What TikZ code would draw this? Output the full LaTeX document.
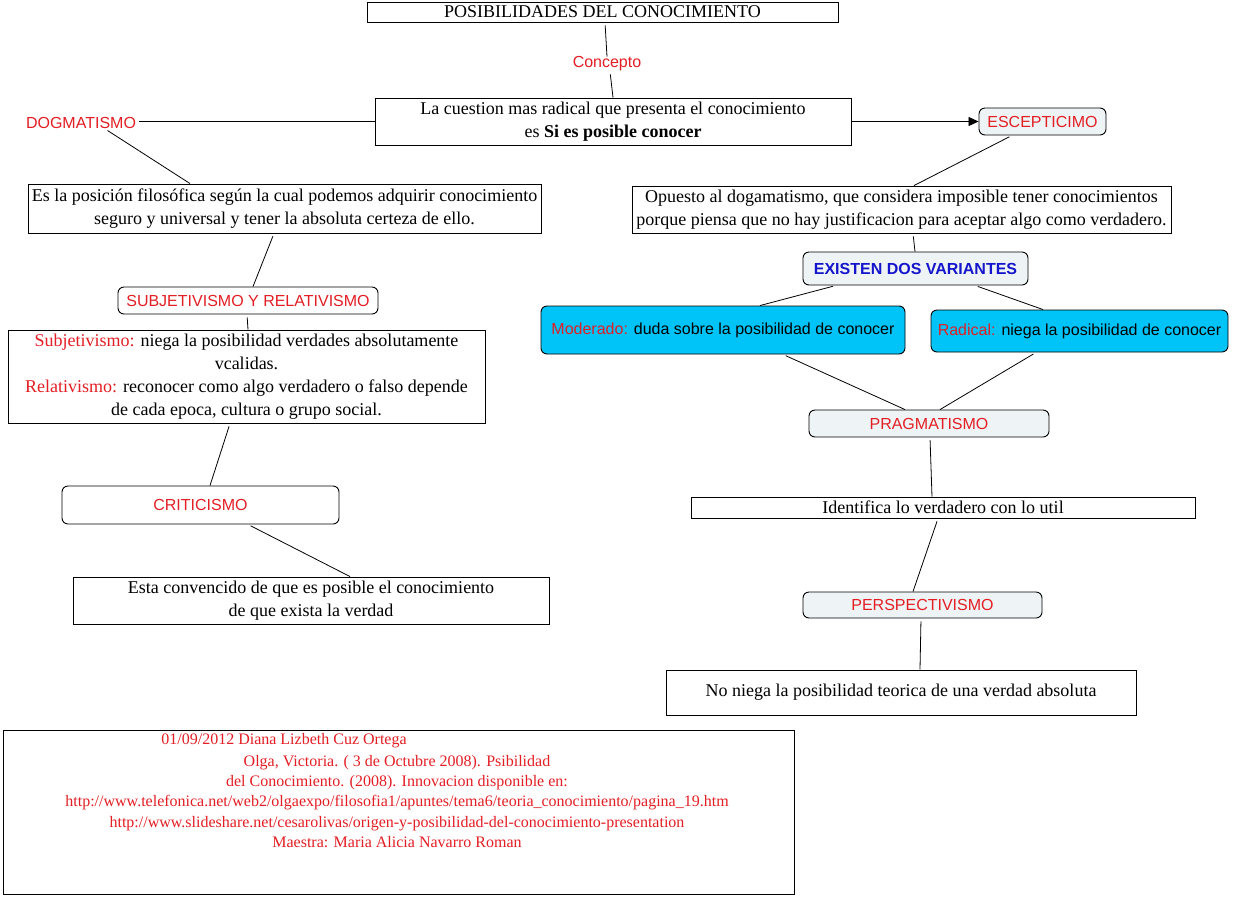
\documentclass[tikz,border=0pt]{standalone}
\usepackage{fontspec}
\setmainfont{Liberation Serif}
\setsansfont{Liberation Sans}
\usetikzlibrary{arrows.meta}

\definecolor{cmred}{RGB}{227,30,36}
\definecolor{cmblue}{RGB}{21,21,204}
\definecolor{cmcyan}{RGB}{0,196,248}
\definecolor{cmpale}{RGB}{238,244,245}

\begin{document}
\begin{tikzpicture}[x=1pt, y=-1pt,
    box/.style = {draw, line width=0.9pt, inner sep=0pt, align=center, font=\fontsize{18}{23}\selectfont},
    roundbox/.style = {draw, line width=0.9pt, rounded corners=6pt, inner sep=0pt, fill=cmpale, text=cmred, font=\sffamily\fontsize{16}{19}\selectfont},
    cyanbox/.style = {roundbox, fill=cmcyan, text=black},
    word/.style = {inner sep=0pt, text=cmred, font=\sffamily\fontsize{16}{19}\selectfont},
    link/.style = {line width=0.8pt, shorten <=3pt}]
        \useasboundingbox[fill=white] (0, 0) rectangle (1235, 898);

        \node[box, minimum width=471, minimum height=20] at (602.5, 12) (title) {POSIBILIDADES DEL CONOCIMIENTO};
        \node[word] at (607, 64) (concepto) {Concepto};
        \node[box, minimum width=476, minimum height=47] at (613, 121.5) (cuestion) {La cuestion mas radical que presenta el conocimiento\\ es \textbf{Si es posible conocer}};

        % izquierda
        \node[word] at (81, 123) (dogma) {DOGMATISMO};
        \node[box, minimum width=513, minimum height=49] at (284.5, 208.5) (dogdef) {Es la posición filosófica según la cual podemos adquirir conocimiento\\ seguro y universal y tener la absoluta certeza de ello.};
        \node[roundbox, fill=white, minimum width=260, minimum height=27] at (248, 300.5) (subrel) {SUBJETIVISMO Y RELATIVISMO};
        \node[box, minimum width=477, minimum height=93] at (246.5, 376.5) (subdef) {\textcolor{cmred}{Subjetivismo:} niega la posibilidad verdades absolutamente\\ vcalidas.\\ \textcolor{cmred}{Relativismo:} reconocer como algo verdadero o falso depende\\ de cada epoca, cultura o grupo social.};
        \node[roundbox, fill=white, minimum width=277, minimum height=38] at (200.5, 505) (criti) {CRITICISMO};
        \node[box, minimum width=476, minimum height=47] at (311, 600.5) (critdef) {Esta convencido de que es posible el conocimiento\\ de que exista la verdad};

        % derecha
        \node[roundbox, minimum width=127, minimum height=27] at (1042.5, 121.5) (escep) {ESCEPTICIMO};
        \node[box, minimum width=539, minimum height=47] at (901.5, 209.5) (escdef) {Opuesto al dogamatismo, que considera imposible tener conocimientos\\ porque piensa que no hay justificacion para aceptar algo como verdadero.};
        \node[roundbox, text=cmblue, font=\sffamily\bfseries\fontsize{16}{19}\selectfont, minimum width=225, minimum height=33] at (915.5, 268.5) (variantes) {EXISTEN DOS VARIANTES};
        \node[cyanbox, minimum width=364, minimum height=48] at (723, 330) (moderado) {\textcolor{cmred}{Moderado:} duda sobre la posibilidad de conocer};
        \node[cyanbox, minimum width=297, minimum height=42] at (1079.5, 331) (radical) {\textcolor{cmred}{Radical:} niega la posibilidad de conocer};
        \node[roundbox, minimum width=240, minimum height=27] at (929, 423.5) (pragma) {PRAGMATISMO};
        \node[box, minimum width=504, minimum height=21] at (943, 507.5) (ident) {Identifica lo verdadero con lo util};
        \node[roundbox, minimum width=239, minimum height=26] at (922.5, 605) (persp) {PERSPECTIVISMO};
        \node[box, minimum width=470, minimum height=45] at (901, 692.5) (noniega) {No niega la posibilidad teorica de una verdad absoluta};

        % referencias
        \node[draw, line width=0.9pt, inner sep=0pt, minimum width=791, minimum height=164] at (398.5, 812) (refs) {};
        \node[inner sep=0pt, text=cmred, font=\fontsize{16}{20}\selectfont] at (284, 741) (autora) {01/09/2012 Diana Lizbeth Cuz Ortega};
        \node[inner sep=0pt, align=center, text=cmred, font=\fontsize{16}{20.25}\selectfont] at (397, 801.5) (fuentes) {Olga, Victoria. ( 3 de Octubre 2008). Psibilidad\\ del Conocimiento. (2008). Innovacion disponible en:\\ http://www.telefonica.net/web2/olgaexpo/filosofia1/apuntes/tema6/teoria\_conocimiento/pagina\_19.htm\\ http://www.slideshare.net/cesarolivas/origen-y-posibilidad-del-conocimiento-presentation\\ Maestra: Maria Alicia Navarro Roman};

        \draw[link] ([xshift=2.5]title.south) -- (concepto.north);
        \draw[link] ([xshift=3]concepto.south) -- (cuestion.north);
        \draw[link] (dogma.east |- cuestion.west) -- (cuestion.west);
        \draw[line width=0.8pt, -{Triangle[length=10pt, width=9pt]}] (cuestion.east) -- (escep.west);

        \draw[link] ([xshift=24]dogma.south) -- ([xshift=-94.5]dogdef.north);
        \draw[link] ([xshift=-10.5]dogdef.south) -- ([xshift=5]subrel.north);
        \draw[link] ([xshift=-1]subrel.south) -- ([xshift=1.5]subdef.north);
        \draw[link] ([xshift=-16.5]subdef.south) -- ([xshift=9.5]criti.north);
        \draw[link] ([xshift=47.5]criti.south) -- ([xshift=39]critdef.north);

        \draw[link] ([xshift=-30.5]escep.south) -- ([xshift=12.5]escdef.north);
        \draw[link] ([xshift=11.5]escdef.south) -- ([xshift=-0.5]variantes.north);
        \draw[link] ([xshift=-79.5]variantes.south) -- ([xshift=37]moderado.north);
        \draw[link] ([xshift=59.5]variantes.south) -- ([xshift=-36.5]radical.north);
        \draw[link] ([xshift=60]moderado.south) -- ([xshift=-24]pragma.north);
        \draw[link] ([xshift=-43.5]radical.south) -- ([xshift=11]pragma.north);
        \draw[link] ([xshift=1]pragma.south) -- ([xshift=-11]ident.north);
        \draw[link] ([xshift=-5]ident.south) -- ([xshift=-9.5]persp.north);
        \draw[link] ([xshift=-1.5]persp.south) -- ([xshift=19]noniega.north);
    \end{tikzpicture}
\end{document}
